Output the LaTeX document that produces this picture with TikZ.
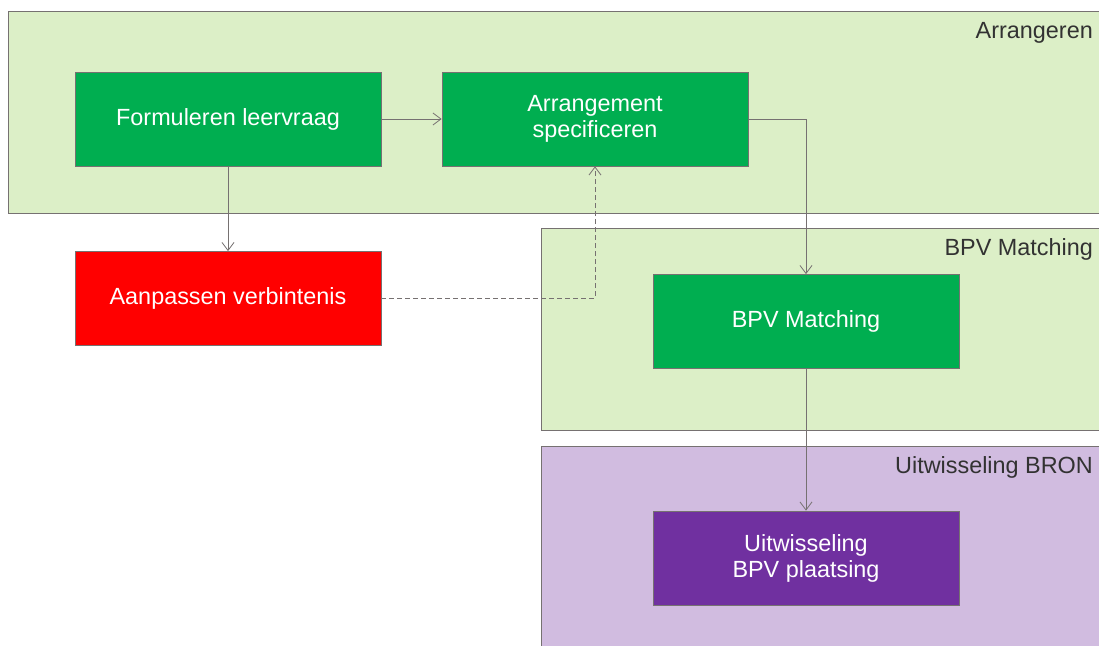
\documentclass[tikz,border=0pt]{standalone}
\usepackage{fontspec}
\setmainfont{Liberation Sans}
\usepackage{xcolor}
\usepackage{tikz}
\usetikzlibrary{positioning,arrows.meta}
\definecolor{lanegreen}{RGB}{220, 239, 199}
\definecolor{lanepurple}{RGB}{209, 188, 224}
\definecolor{stepgreen}{RGB}{0, 174, 80}
\definecolor{stepred}{RGB}{255, 0, 0}
\definecolor{steppurple}{RGB}{112, 48, 160}
\definecolor{edgegray}{RGB}{118, 113, 113}
\definecolor{labelgray}{RGB}{50, 50, 50}
\tikzset{
    lane/.style={rectangle, draw=edgegray, line width=0.8pt, inner sep=0pt},
    green lane/.style={lane, fill=lanegreen},
    purple lane/.style={lane, fill=lanepurple},
    lane label/.style={anchor=base east, inner sep=0pt, text=labelgray, font=\fontsize{23.4}{26}\selectfont},
    process/.style={rectangle, draw=edgegray, line width=0.8pt, minimum width=306pt, minimum height=94pt, text=white, align=center, font=\fontsize{23.4}{26}\selectfont},
    green step/.style={process, fill=stepgreen},
    red step/.style={process, fill=stepred},
    purple step/.style={process, fill=steppurple},
    flow arrow/.style={-{Straight Barb[length=8pt, width=12pt]}, draw=edgegray, line width=0.8pt},
    back arrow/.style={flow arrow, dash pattern=on 5pt off 3pt}
}

\begin{document}
\begin{tikzpicture}[x=1pt, y=-1pt]
    \clip (0,0) rectangle (1099,645);
    \fill[white] (0,0) rectangle (1099,645);

    % Lanes
    \node[green lane, minimum width=1102pt, minimum height=202pt] (arrlane) at (559,112) {};
    \node[lane label] at (1093,38) {Arrangeren};
    \node[green lane, minimum width=569pt, minimum height=202pt] (bpvlane) at (825.5,329) {};
    \node[lane label] at (1093,255) {BPV Matching};
    \node[purple lane, minimum width=569pt, minimum height=214pt] (bronlane) at (825.5,553) {};
    \node[lane label] at (1093,473) {Uitwisseling BRON};

    % Steps
    \node[green step] (leervraag) at (228,119) {Formuleren leervraag};
    \node[green step] (arrangement) at (595,119) {Arrangement\\specificeren};
    \node[red step] (verbintenis) at (228,298.5) {Aanpassen verbintenis};
    \node[green step] (matching) at (806,321.5) {BPV Matching};
    \node[purple step] (plaatsing) at (806,558) {Uitwisseling\\BPV plaatsing};

    % Connections
    \draw[flow arrow] (leervraag) -- (arrangement);
    \draw[flow arrow] (leervraag) -- (verbintenis);
    \draw[flow arrow] (arrangement.east) -| (matching.north);
    \draw[back arrow] (verbintenis.east) -| (arrangement.south);
    \draw[flow arrow] (matching) -- (plaatsing);
\end{tikzpicture}
\end{document}
